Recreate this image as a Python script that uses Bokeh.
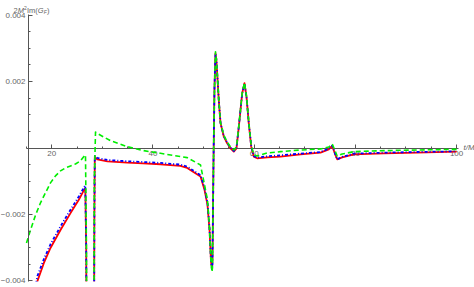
from bokeh.plotting import figure
from bokeh.models import (LinearAxis, FixedTicker, Range1d, Label, CustomJSTickFormatter,
                          BoxAnnotation)
from bokeh.embed import file_html
from bokeh.resources import INLINE

# ---- data ----
t_red = [15.0, 16.0, 17.17, 18.42, 19.74, 21.72, 23.70, 25.34, 26.46, 26.62, 26.80, 26.90, 27.60,
         28.30, 28.42, 28.50, 28.97, 31.0, 34.9, 38.0, 41.48, 45.4, 46.76, 49.39, 50.18, 50.77,
         51.17, 51.46, 51.66, 51.75, 51.95, 52.15, 52.35, 52.5, 52.69, 53.0, 53.34, 54.0, 54.66,
         55.32, 55.97, 56.5, 56.96, 57.63, 58.08, 58.48, 58.93, 59.41, 59.92, 60.59, 62.57, 65.2,
         69.15, 73.1, 74.74, 75.42, 75.93, 76.4, 77.39, 79.68, 85.61, 92.21, 100.0]
im_red = [-0.0062, -0.0050, -0.0040, -0.00347, -0.00301, -0.00247, -0.00196, -0.00156, -0.00124,
          -0.00122, -0.0030, -0.0080, -0.0150, -0.0080, -0.0020, -0.00027, -0.00034, -0.00040,
          -0.00044, -0.00046, -0.00049, -0.00054, -0.00060, -0.00086, -0.00126, -0.00171, -0.00247,
          -0.00343, -0.00361, -0.0034, -0.0005, 0.0018, 0.00285, 0.0027, 0.00225, 0.00144, 0.00075,
          0.00034, 0.00014, -0.00001, -0.00011, -0.00001, 0.00064, 0.00165, 0.00195, 0.00154,
          0.00074, 0.00004, -0.00026, -0.00031, -0.00028, -0.00026, -0.00019, -0.00014, -0.00004,
          0.00006, -0.00016, -0.00034, -0.00028, -0.00019, -0.00016, -0.00014, -0.00011]

t_blue = list(t_red)
im_blue = [-0.0060, -0.0048, -0.00385, -0.00335, -0.00290, -0.00236, -0.00186, -0.00146, -0.00116,
           -0.00113, -0.0030, -0.0080, -0.0150, -0.0080, -0.0020, -0.00024, -0.00030, -0.00036,
           -0.00040, -0.00042, -0.00045, -0.00050, -0.00056, -0.00082, -0.00120, -0.00165, -0.00242,
           -0.00340, -0.00368, -0.0035, -0.0005, 0.0018, 0.00285, 0.0027, 0.00225, 0.00144, 0.00076,
           0.00036, 0.00016, 0.00001, -0.00009, 0.00001, 0.00065, 0.00165, 0.00195, 0.00154,
           0.00075, 0.00006, -0.00024, -0.00029, -0.00025, -0.00022, -0.00017, -0.00012, -0.00002,
           0.00007, -0.00015, -0.00034, -0.00027, -0.00017, -0.00014, -0.00012, -0.00010]

t_green = [15.0, 15.79, 16.78, 17.77, 18.75, 19.74, 20.73, 21.72, 22.71, 23.70, 24.68, 25.67, 26.26,
           26.66, 26.85, 26.95, 27.60, 28.30, 28.40, 28.64, 28.97, 31.6, 34.9, 38.18, 41.48, 46.76,
           49.39, 50.18, 50.77, 51.17, 51.46, 51.66, 51.75, 51.95, 52.15, 52.35, 52.5, 52.69, 53.0,
           53.34, 54.0, 54.66, 55.32, 55.97, 56.5, 56.96, 57.63, 58.08, 58.48, 58.93, 59.41, 59.92,
           60.59, 62.57, 65.2, 69.15, 73.1, 74.74, 75.42, 75.93, 76.4, 77.39, 79.68, 85.61, 92.21,
           100.0]
im_green = [-0.00286, -0.00247, -0.00202, -0.00165, -0.00135, -0.00105, -0.00084, -0.00069,
            -0.00060, -0.00054, -0.00048, -0.00039, -0.00027, -0.00021, -0.0030, -0.0080, -0.0150,
            -0.0080, -0.0010, 0.00048, 0.00044, 0.00022, 0.00004, -0.00008, -0.00016, -0.00029,
            -0.00051, -0.00111, -0.00156, -0.00241, -0.00343, -0.00373, -0.0036, -0.0005, 0.0018,
            0.0029, 0.0027, 0.00226, 0.00145, 0.00077, 0.00038, 0.00018, 0.00003, -0.00006, 0.00003,
            0.00066, 0.00166, 0.00197, 0.00156, 0.00077, 0.00008, -0.0002, -0.00024, -0.00015,
            -0.00011, -0.00006, -0.00003, 0.00003, 0.00012, -0.00006, -0.00024, -0.00018, -0.00011,
            -0.00008, -0.00006, -0.00004]

x_major = [20, 40, 60, 80, 100]
x_minor = [15, 25, 30, 35, 45, 50, 55, 65, 70, 75, 85, 90, 95]
y_major = [-0.004, -0.002, 0.002, 0.004]
y_minor = [-0.0035, -0.003, -0.0025, -0.0015, -0.001, -0.0005, 0.0005, 0.001, 0.0015,
           0.0025, 0.003, 0.0035]
plot_t = (15, 100.35)        # extent of the plotted region (axis lines)
plot_v = (-0.00402, 0.00402)

AX = "#555555"
LAB = "#666666"
FONT = "Liberation Sans"

p = figure(width=474, height=287, output_backend="svg", toolbar_location=None,
           x_range=Range1d(9.862, 103.538), y_range=Range1d(-0.0042007, 0.0044416),
           x_axis_type=None, y_axis_type=None,
           min_border_left=0, min_border_right=0, min_border_top=0, min_border_bottom=0)
p.outline_line_color = None
p.background_fill_color = "white"
p.border_fill_color = "white"


def style(ax):
    ax.axis_line_color = AX
    ax.axis_line_width = 1
    ax.major_tick_line_color = AX
    ax.minor_tick_line_color = AX
    ax.major_tick_in = 4
    ax.major_tick_out = 0
    ax.minor_tick_in = 2
    ax.minor_tick_out = 0
    ax.major_label_text_font = FONT
    ax.major_label_text_font_size = "8px"
    ax.major_label_text_color = LAB
    ax.major_label_standoff = 3


xaxis = LinearAxis(fixed_location=0, bounds=plot_t,
                   ticker=FixedTicker(ticks=x_major, minor_ticks=x_minor))
style(xaxis)
xaxis.level = "underlay"
p.add_layout(xaxis, "below")

yaxis = LinearAxis(fixed_location=15.4, bounds=plot_v,
                   ticker=FixedTicker(ticks=y_major, minor_ticks=y_minor),
                   formatter=CustomJSTickFormatter(
                       code="return tick < 0 ? '\u2212' + (-tick).toFixed(3) : tick.toFixed(3);"))
style(yaxis)
yaxis.level = "overlay"
p.add_layout(yaxis, "left")

p.line(t_red, im_red, line_color="#ff0000", line_width=1.8, line_join="round")
p.line(t_blue, im_blue, line_color="#0000ff", line_width=1.8, line_dash="3 2 1 2", line_join="round")
p.line(t_green, im_green, line_color="#00ee00", line_width=1.6, line_dash="5 3", line_join="round")

# the plot range ends at -0.004: hide what lies below it
p.add_layout(BoxAnnotation(top=plot_v[0], fill_color="white", fill_alpha=1.0, line_color=None))


# axis labels (Mathematica style, at the ends of the axes)
def lab(x, y, text, size="7.5px", style="normal"):
    p.add_layout(Label(x=x, y=y, text=text, text_font=FONT, text_font_size=size,
                       text_font_style=style, text_color=LAB, text_baseline="alphabetic",
                       text_align="left"))


base = 0.00414
lab(12.43, base, "2")
lab(13.26, base, "M", style="italic")
lab(14.50, 0.00423, "2", size="5px")
lab(15.10, base, "Im(")
lab(17.23, base, "G", style="italic")
lab(18.40, 0.004095, "F", size="5px", style="italic")
lab(19.05, base, ")")
lab(101.36, 0.00003, "t/M", size="8px", style="italic")

open("out.html", "w").write(file_html(p, INLINE))
